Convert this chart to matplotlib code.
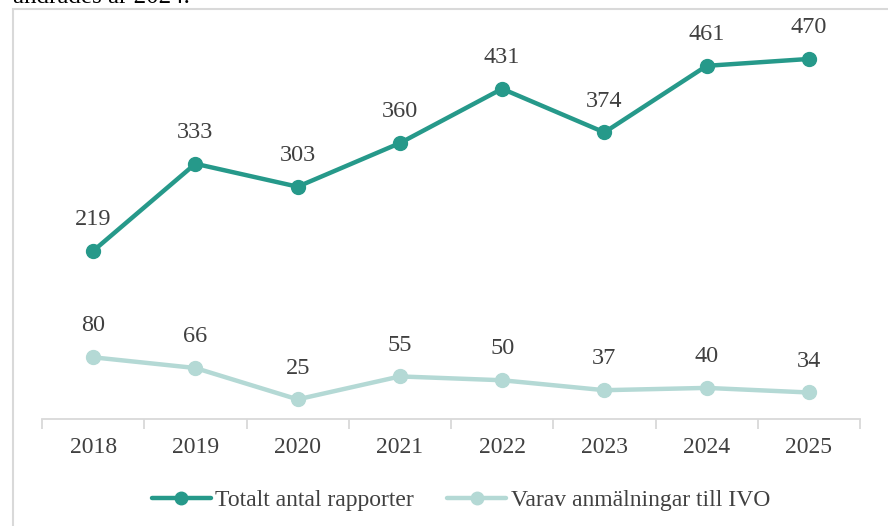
import matplotlib.pyplot as plt
from matplotlib.patches import Rectangle
import numpy as np

years = ['2018', '2019', '2020', '2021', '2022', '2023', '2024', '2025']
totalt = [219, 333, 303, 360, 431, 374, 461, 470]
ivo = [80, 66, 25, 55, 50, 37, 40, 34]

dark = '#26998A'
light = '#B4D9D5'
txt = '#404040'

plt.rcParams['font.family'] = ['Liberation Serif', 'DejaVu Serif']

W, H = 888, 526
fig = plt.figure(figsize=(W / 100, H / 100), dpi=100)
ax = fig.add_axes([42 / W, (H - 418.5) / H, (860 - 42) / W, (418.5 - 36) / H])

x = np.arange(len(years))
ax.plot(x, totalt, color=dark, lw=3.2, marker='o', ms=10, solid_capstyle='round',
        label='Totalt antal rapporter', zorder=3)
ax.plot(x, ivo, color=light, lw=3.2, marker='o', ms=10, solid_capstyle='round',
        label='Varav anmälningar till IVO', zorder=3)

for xi, v in zip(x, totalt):
    ax.annotate(str(v), (xi, v), xytext=(0, 15), textcoords='offset points',
                ha='center', va='bottom', fontsize=17.5, color=txt)
for xi, v in zip(x, ivo):
    ax.annotate(str(v), (xi, v), xytext=(0, 15), textcoords='offset points',
                ha='center', va='bottom', fontsize=17.5, color=txt)

ax.set_xlim(-0.5, len(years) - 0.5)
ax.set_ylim(0, 500)
ax.set_yticks([])
ax.set_xticks(x)
ax.set_xticklabels(years, fontsize=17, color=txt)
ax.set_xticks(np.arange(-0.5, len(years), 1), minor=True)
ax.tick_params(axis='x', which='major', length=0, pad=13)
ax.tick_params(axis='x', which='minor', length=7, width=1.3, color='#D9D9D9')
for s in ['top', 'right', 'left']:
    ax.spines[s].set_visible(False)
ax.spines['bottom'].set_color('#D9D9D9')
ax.spines['bottom'].set_linewidth(1.3)

leg = fig.legend(loc='center', bbox_to_anchor=(461 / W, (H - 500) / H), ncol=2,
                 frameon=False, fontsize=17, handlelength=2.5, columnspacing=1.4,
                 handletextpad=0.2, markerscale=0.9)
for t in leg.get_texts():
    t.set_color(txt)

# chart frame
fig.patches.append(Rectangle((12.5 / W, -0.1), 1.2, (H - 9) / H + 0.1,
                             transform=fig.transFigure, fill=False,
                             edgecolor='#D9D9D9', lw=1.5, zorder=0))

# clipped caption line from the page above
fig.text(13 / W, 1 - 3 / H, 'ändrades år 2024.', fontsize=18, color='black',
         ha='left', va='baseline')

fig.savefig('out.png', dpi=100)
